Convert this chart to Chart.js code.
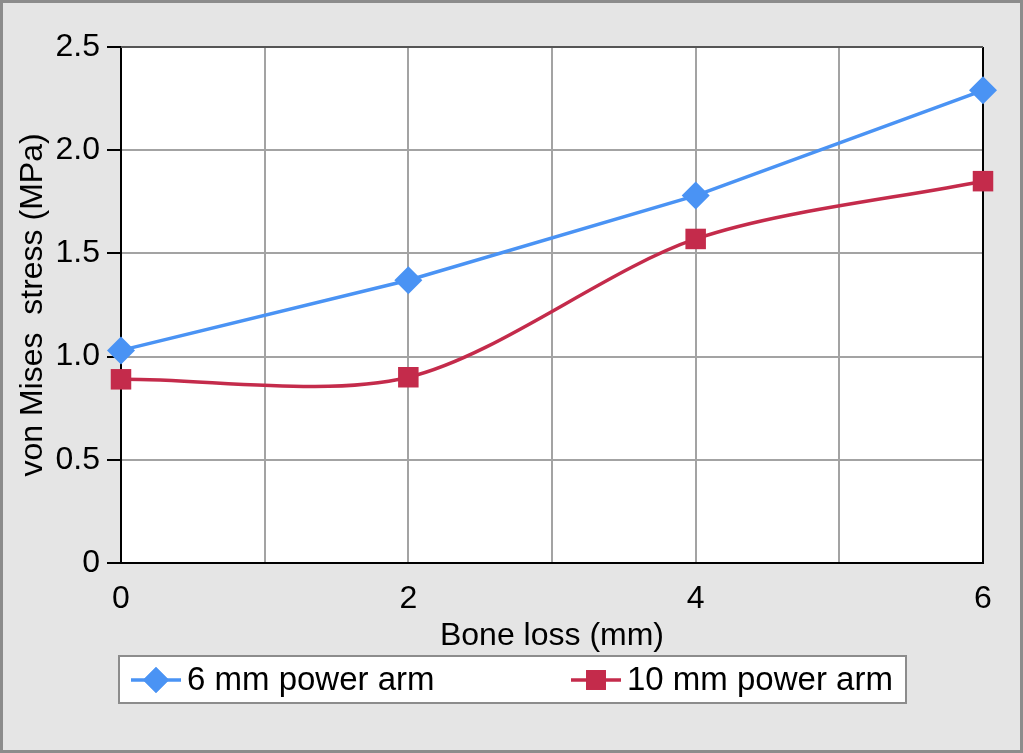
<!DOCTYPE html>
<html>
<head>
<meta charset="utf-8">
<script src="https://cdn.jsdelivr.net/npm/chart.js@4"></script>
<style>
body { margin: 0; background: #e5e5e5; }
#wrap { width: 1023px; height: 753px; }
</style>
</head>
<body>
<div id="wrap"><canvas id="grafico" width="1023" height="753"></canvas></div>
<script>
const ctx = document.getElementById('grafico').getContext('2d');

// datos
const boneLoss = [0, 2, 4, 6];
const arm6 = [1.03, 1.37, 1.78, 2.29];
const arm10 = [0.89, 0.90, 1.57, 1.85];
const xTickLabels = ['0', '', '2', '', '4', '', '6'];
const yTickLabels = ['0', '0.5', '1.0', '1.5', '2.0', '2.5'];
const seriesNames = ['6 mm power arm', '10 mm power arm'];

const azul = '#4a93f4';
const rojo = '#c42b4b';
const fuente = 'Liberation Sans, Arial, sans-serif';
const tam = 32;

const fondo = {
  id: 'fondo',
  beforeDraw(chart) {
    const c = chart.ctx, a = chart.chartArea;
    c.save();
    c.fillStyle = '#e5e5e5';
    c.fillRect(0, 0, chart.width, chart.height);
    c.strokeStyle = '#8c8c8c';
    c.lineWidth = 3;
    c.strokeRect(1.5, 1.5, chart.width - 3, chart.height - 3);
    c.fillStyle = '#ffffff';
    c.fillRect(a.left, a.top, a.right - a.left, a.bottom - a.top);
    c.restore();
  },
  beforeDatasetsDraw(chart) {
    const c = chart.ctx, a = chart.chartArea;
    c.save();
    c.strokeStyle = '#000';
    c.lineWidth = 2;
    c.beginPath();
    c.moveTo(a.right, a.top);
    c.lineTo(a.right, a.bottom);
    c.stroke();
    c.strokeStyle = '#555';
    c.beginPath();
    c.moveTo(a.left, a.top);
    c.lineTo(a.right, a.top);
    c.stroke();
    c.restore();
  }
};

// leyenda dibujada a mano (linea + marcador)
const leyenda = {
  id: 'leyenda',
  afterDraw(chart) {
    const c = chart.ctx;
    c.save();
    c.fillStyle = '#fff';
    c.fillRect(119, 656, 787, 47);
    c.strokeStyle = '#8c8c8c';
    c.lineWidth = 2;
    c.strokeRect(119, 656, 787, 47);
    const items = [
      { x: 131, color: azul, style: 'rectRot', r: 13, text: seriesNames[0] },
      { x: 571, color: rojo, style: 'rect', r: 14, text: seriesNames[1] }
    ];
    const yc = 680;
    items.forEach(it => {
      c.strokeStyle = it.color;
      c.lineWidth = 3.5;
      c.beginPath();
      c.moveTo(it.x, yc);
      c.lineTo(it.x + 50, yc);
      c.stroke();
      c.fillStyle = it.color;
      Chart.helpers.drawPoint(c, { pointStyle: it.style, radius: it.r, borderWidth: 0 }, it.x + 25, yc);
      c.fill();
      c.fillStyle = '#000';
      c.font = '33px ' + fuente;
      c.textBaseline = 'middle';
      c.fillText(it.text, it.x + 56, yc + 1);
    });
    c.restore();
  }
};

const myChart = new Chart(ctx, {
  type: 'line',
  data: {
    datasets: [{
      label: seriesNames[0],
      data: boneLoss.map((x, i) => ({ x: x, y: arm6[i] })),
      borderColor: azul,
      backgroundColor: azul,
      borderWidth: 3.5,
      pointStyle: 'rectRot',
      pointRadius: 14,
      pointBorderWidth: 0,
      tension: 0,
      clip: false
    }, {
      label: seriesNames[1],
      data: boneLoss.map((x, i) => ({ x: x, y: arm10[i] })),
      borderColor: rojo,
      backgroundColor: rojo,
      borderWidth: 3.5,
      pointStyle: 'rect',
      pointRadius: 14.5,
      pointBorderWidth: 0,
      tension: 0.3,
      clip: false
    }]
  },
  plugins: [fondo, leyenda],
  options: {
    responsive: false,
    animation: false,
    layout: { padding: { left: 8, right: 40, top: 47, bottom: 98 } },
    plugins: {
      legend: { display: false },
      tooltip: { enabled: false }
    },
    scales: {
      x: {
        type: 'linear',
        min: 0,
        max: 6,
        afterFit: s => { s.height = 92; },
        ticks: {
          stepSize: 1,
          autoSkip: false,
          maxRotation: 0,
          padding: 17,
          color: '#000',
          font: { family: fuente, size: tam },
          callback: (v, i) => xTickLabels[i]
        },
        grid: { color: '#a3a3a3', lineWidth: 2, drawTicks: false },
        border: { color: '#000', width: 2 },
        title: {
          display: true,
          text: 'Bone loss (mm)',
          color: '#000',
          font: { family: fuente, size: tam },
          padding: { top: 5, bottom: 0 }
        }
      },
      y: {
        min: 0,
        max: 2.5,
        afterFit: s => { s.width = 113; },
        ticks: {
          stepSize: 0.5,
          padding: 7,
          color: '#000',
          font: { family: fuente, size: tam },
          callback: (v, i) => yTickLabels[i]
        },
        grid: { color: '#a3a3a3', lineWidth: 2, tickColor: '#000', tickLength: 14, tickWidth: 2 },
        border: { color: '#000', width: 2 },
        title: {
          display: true,
          text: 'von Mises  stress (MPa)',
          color: '#000',
          font: { family: fuente, size: tam },
          padding: { top: 6, bottom: 0 }
        }
      }
    }
  }
});
</script>
</body>
</html>
